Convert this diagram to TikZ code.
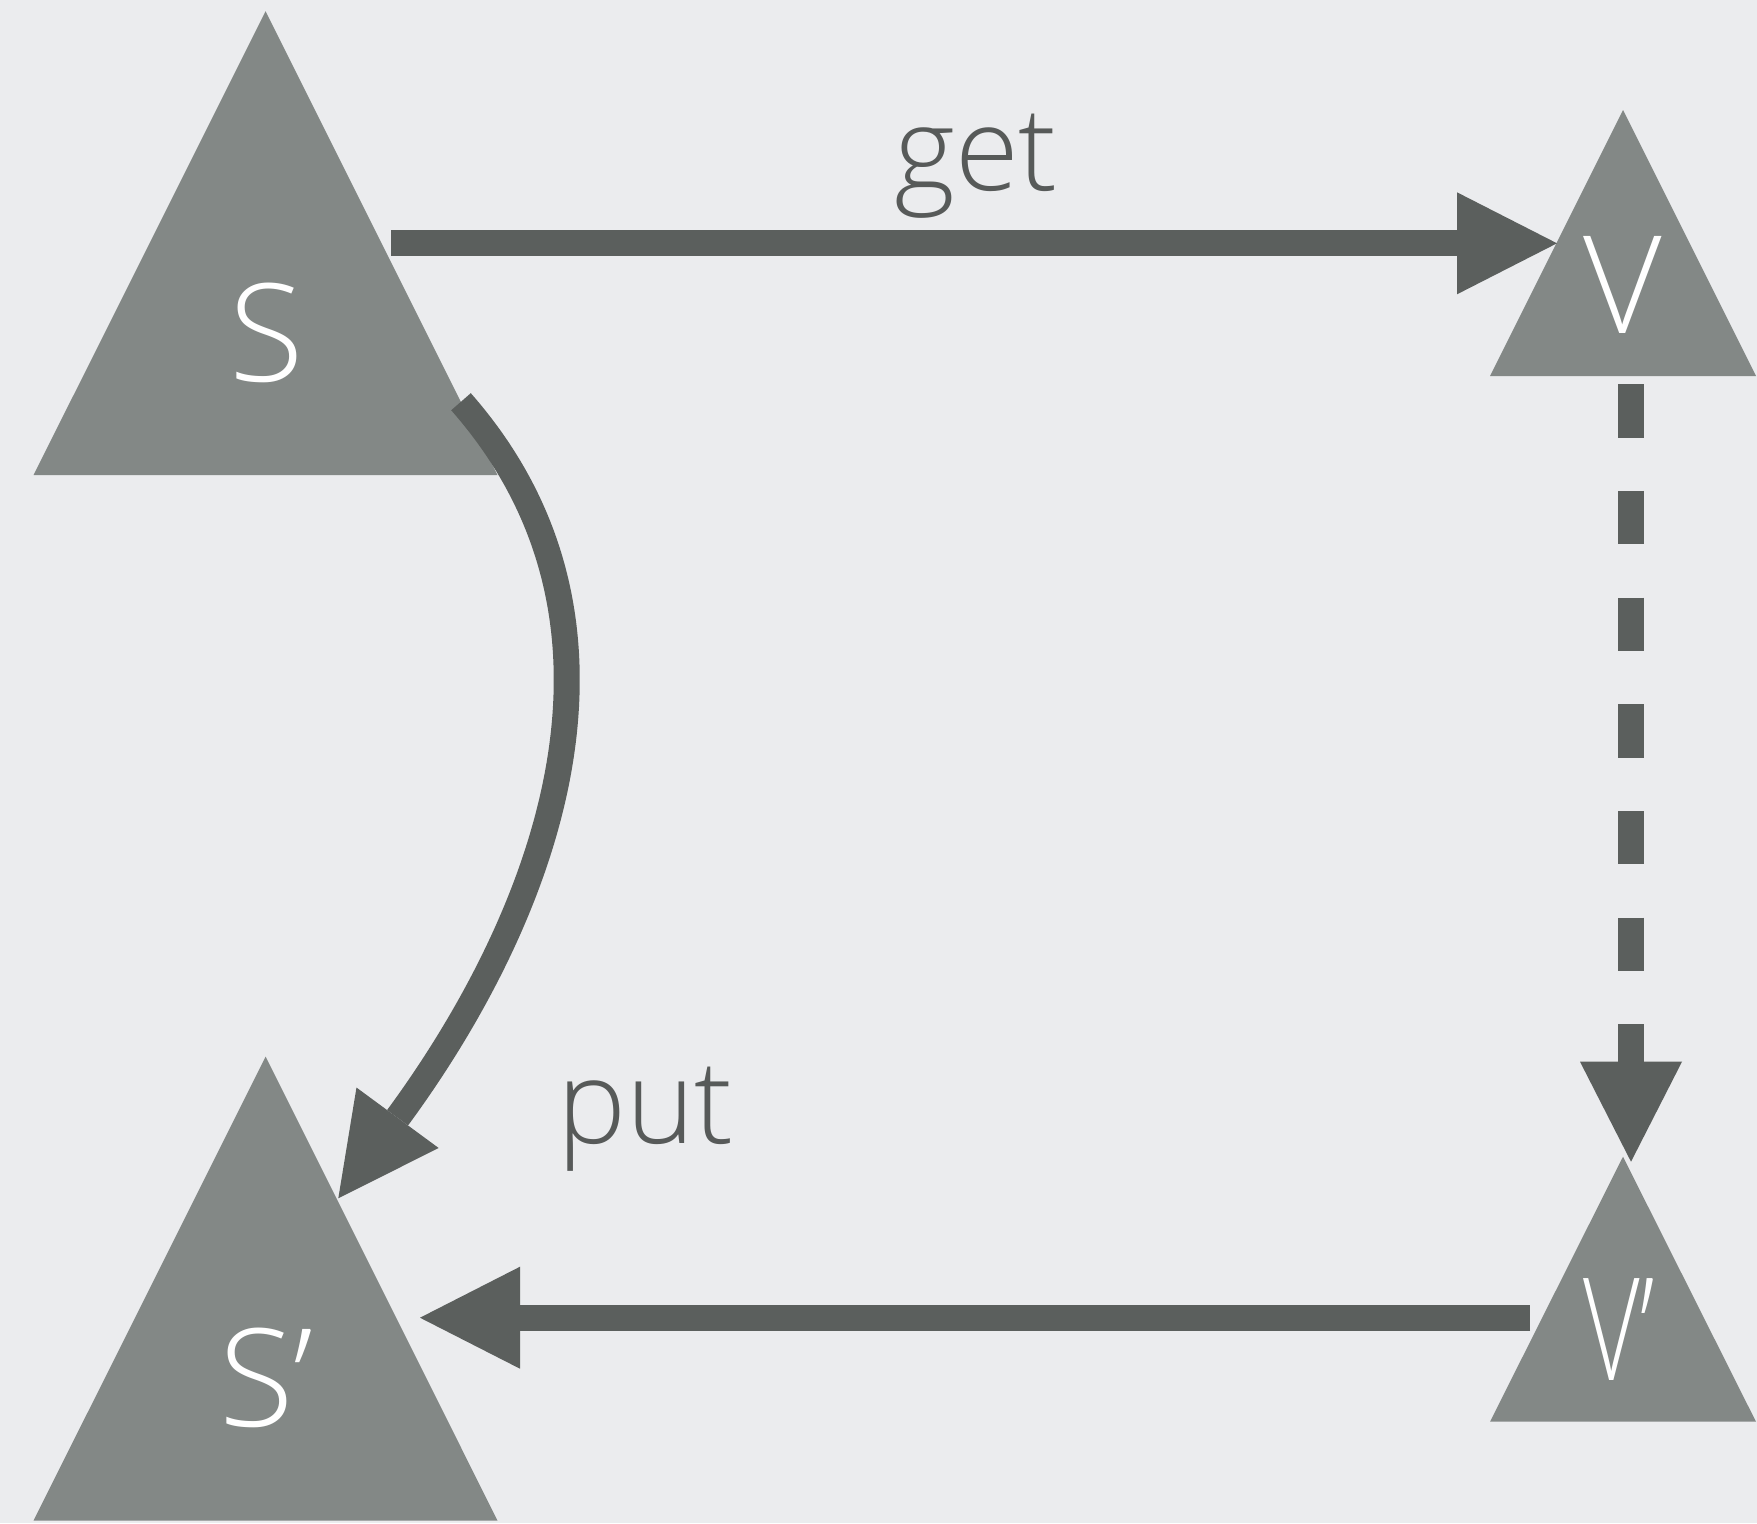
\documentclass[tikz,border=0pt]{standalone}
\usepackage{fontspec}
\setmainfont{Open Sans}[UprightFont=* Light]
\usepackage{graphicx}
\usetikzlibrary{arrows.meta}
\definecolor{bg}{HTML}{EBECEE}
\definecolor{tri}{HTML}{838886}
\definecolor{arr}{HTML}{5B5F5D}
\definecolor{lab}{HTML}{575A59}
\begin{document}
\begin{tikzpicture}[x=0.5pt,y=-0.5pt,
  trishape/.style={fill=tri},
  conn/.style={draw=arr, line width=13pt, -{Triangle[length=50pt,width=51pt,line width=0pt]}},
  dashconn/.style={conn, dash pattern=on 26.67pt off 26.67pt},
  inlab/.style={text=white, font=\fontsize{68}{68}\selectfont, inner sep=0pt, anchor=base},
  edgelab/.style={text=lab, font=\fontsize{58}{58}\selectfont, inner sep=0pt, anchor=base}]
  % background / bounding box
  \fill[bg] (0,0) rectangle (1757,1523);
  \useasboundingbox (0,0) rectangle (1757,1523);
  % triangles
  \fill[trishape] (265.6,11.2) -- (497.5,475) -- (33.6,475) -- cycle;
  \fill[trishape] (265.6,1056.6) -- (497.5,1520.5) -- (33.6,1520.5) -- cycle;
  \fill[trishape] (1623,110) -- (1756,376) -- (1490,376) -- cycle;
  \fill[trishape] (1623,1156.7) -- (1756,1421.7) -- (1490,1421.7) -- cycle;
  % labels in triangles
  \node[inlab] (S) at (266.7,381.7) {S};
  \node[inlab] (Sp) at (266,1426.7) {S’};
  \node[inlab] (V) at (1623,333.3) {V};
  \node[inlab] (Vp) at (1619,1380) {\scalebox{0.72}[1.05]{V’}};
  % edge labels
  \node[edgelab] (get) at (976,190) {get};
  \node[edgelab] (put) at (645.5,1143) {put};
  % connector end points
  \coordinate (getA) at (391,243.3);
  \coordinate (getB) at (1557,243.3);
  \coordinate (dashA) at (1631,384.3);
  \coordinate (dashB) at (1631,1161.7);
  \coordinate (putA) at (1530,1317.7);
  \coordinate (putB) at (420,1317.7);
  \coordinate (curA) at (461,401.7);
  \coordinate (curB) at (338.3,1198.3);
  % connectors
  \draw[conn] (getA) -- (getB);
  \draw[dashconn] (dashA) -- (dashB);
  \draw[conn] (putA) -- (putB);
  \draw[conn] (curA) .. controls (665.6,634.5) and (533.7,932.7) .. (curB);
\end{tikzpicture}
\end{document}
